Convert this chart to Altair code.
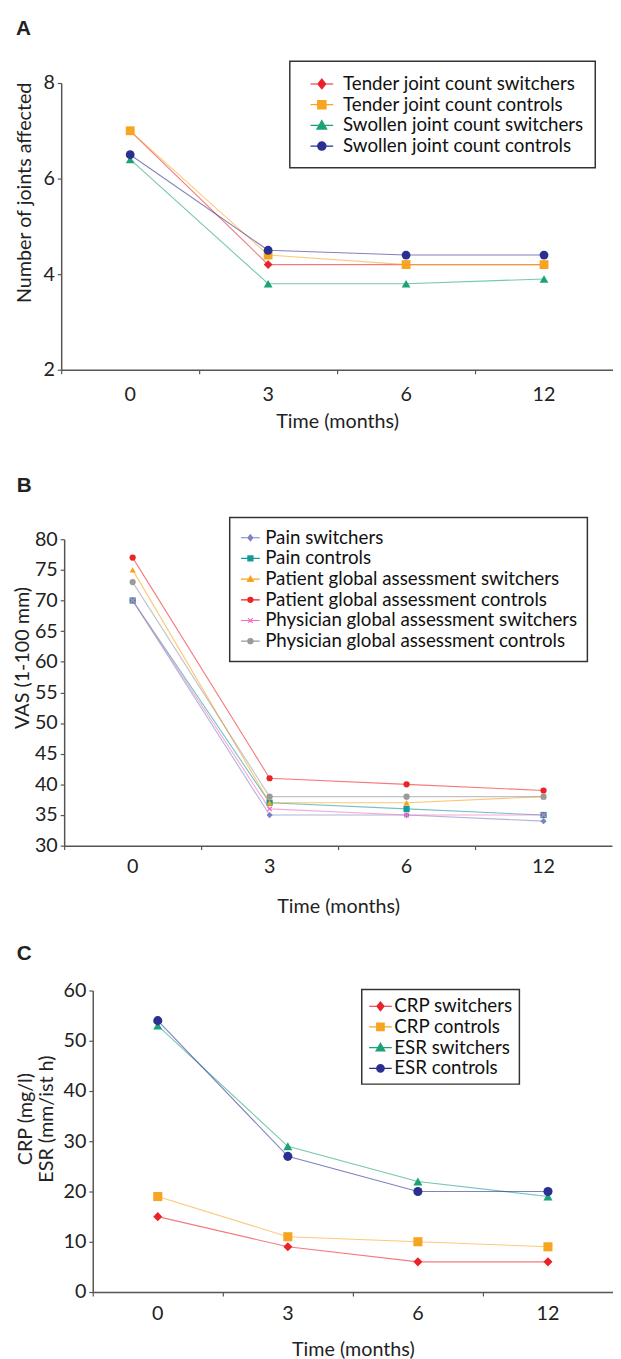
import math
import altair as alt
import pandas as pd

months = ["0", "3", "6", "12"]

# ---------------- Panel A ----------------
a_series = ["Tender joint count switchers", "Tender joint count controls",
            "Swollen joint count switchers", "Swollen joint count controls"]
a_tender_switchers = [7.0, 4.2, 4.2, 4.2]
a_tender_controls = [7.0, 4.4, 4.2, 4.2]
a_swollen_switchers = [6.4, 3.8, 3.8, 3.9]
a_swollen_controls = [6.5, 4.5, 4.4, 4.4]
a_colors = ["#e8232a", "#f7a520", "#1ba27a", "#2b2f8f"]
a_shapes = ["diamond", "square", "triangle", "circle"]
a_ticks = [2, 4, 6, 8]

# ---------------- Panel B ----------------
b_series = ["Pain switchers", "Pain controls",
            "Patient global assessment switchers", "Patient global assessment controls",
            "Physician global assessment switchers", "Physician global assessment controls"]
b_pain_switchers = [70, 35, 35, 34]
b_pain_controls = [70, 37, 36, 35]
b_patient_switchers = [75, 37, 37, 38]
b_patient_controls = [77, 41, 40, 39]
b_physician_switchers = [70, 36, 35, 35]
b_physician_controls = [73, 38, 38, 38]
b_colors = ["#7b82c2", "#159a9c", "#f7a21b", "#ed2224", "#f06ec0", "#9a9a9a"]
b_shapes = ["diamond", "square", "triangle", "circle", "x", "circle"]
b_ticks = [30, 35, 40, 45, 50, 55, 60, 65, 70, 75, 80]

# ---------------- Panel C ----------------
c_series = ["CRP switchers", "CRP controls", "ESR switchers", "ESR controls"]
c_crp_switchers = [15, 9, 6, 6]
c_crp_controls = [19, 11, 10, 9]
c_esr_switchers = [53, 29, 22, 19]
c_esr_controls = [54, 27, 20, 20]
c_colors = ["#e8232a", "#f7a520", "#1ba27a", "#2b2f8f"]
c_shapes = ["diamond", "square", "triangle", "circle"]
c_ticks = [0, 10, 20, 30, 40, 50, 60]

FONT = "Lato"
AXIS_COL = "#555555"
TEXT_COL = "#222222"
PLOT_W = 560


def fmt(v):
    return f"{v:.3f}".rstrip("0").rstrip(".")


def x_polygon(m, t=0.22):
    pts = [(-t, -1), (t, -1), (t, -t), (1, -t), (1, t), (t, t), (t, 1), (-t, 1),
           (-t, t), (-1, t), (-1, -t), (-t, -t)]
    out = []
    for x, y in pts:
        rx = (x - y) / math.sqrt(2) * m
        ry = (x + y) / math.sqrt(2) * m
        out.append(f"{fmt(rx)},{fmt(ry)}")
    return "M" + "L".join(out) + "Z"


def outline(kind, m):
    if kind == "diamond":
        return f"M0,{fmt(-m)}L{fmt(m*0.8)},0L0,{fmt(m)}L{fmt(-m*0.8)},0Z"
    if kind == "square":
        s = m * 0.85
        return f"M{fmt(-s)},{fmt(-s)}H{fmt(s)}V{fmt(s)}H{fmt(-s)}Z"
    if kind == "triangle":
        return f"M0,{fmt(-m)}L{fmt(m)},{fmt(m*0.75)}L{fmt(-m)},{fmt(m*0.75)}Z"
    if kind == "circle":
        r = m * 0.85
        return f"M{fmt(r)},0A{fmt(r)},{fmt(r)},0,1,1,{fmt(-r)},0A{fmt(r)},{fmt(r)},0,1,1,{fmt(r)},0Z"
    return ""


def legend_marker(kind, m, step):
    # stroked legend symbol: a solid-looking marker built from concentric outlines
    if kind == "x":
        s = m * 0.8
        return f"M{fmt(-s)},{fmt(-s)}L{fmt(s)},{fmt(s)}M{fmt(-s)},{fmt(s)}L{fmt(s)},{fmt(-s)}"
    parts = []
    k = m
    while k > 0.04:
        parts.append(outline(kind, k))
        k -= step
    return "".join(parts)


def point_shape(kind):
    if kind == "triangle":
        return "triangle-up"
    if kind == "x":
        return x_polygon(1.0)
    return kind


def make_panel(letter, letter_dx, letter_offset, series, lists, colors, shapes,
               point_size, ytitle, ydomain, yticks, x_shift, x_end, height,
               ytitle_x, ytitle_y, x_label_pad, x_title_pad, legend_x, legend_y,
               legend_size, legend_len, legend_m, legend_pad, legend_symoff,
               legend_labeloff):
    line_keys = [f"L{i}" for i in range(len(series))]
    point_keys = [f"P{i}" for i in range(len(series))]
    rows = []
    for name, lk, pk, vals in zip(series, line_keys, point_keys, lists):
        for mth, v in zip(months, vals):
            rows.append({"series": name, "line_key": lk, "point_key": pk,
                         "month": mth, "value": v})
    df = pd.DataFrame(rows)

    step = 1.0 / math.sqrt(legend_size) * 2  # about 1px between outlines
    legend_paths = [f"M{fmt(-legend_len)},0H{fmt(legend_len)}" + legend_marker(k, legend_m, step)
                    for k in shapes]

    legend = alt.Legend(
        orient="none", legendX=legend_x, legendY=legend_y, title=None,
        padding=legend_pad, symbolOffset=legend_symoff, labelOffset=legend_labeloff,
        symbolSize=legend_size, labelFontSize=19, labelFont=FONT, labelColor="#111111",
        rowPadding=0, strokeColor="#333333", fillColor="white", labelLimit=500,
        symbolStrokeWidth=1.2, symbolOpacity=1,
    )

    x = alt.X("month:N", sort=months,
              scale=alt.Scale(type="band", paddingInner=0, paddingOuter=0,
                              range=[x_shift, x_end]),
              axis=alt.Axis(title="Time (months)", labelAngle=0, bandPosition=0,
                            tickSize=4, labelPadding=x_label_pad, titlePadding=x_title_pad))
    y = alt.Y("value:Q",
              scale=alt.Scale(domain=ydomain, nice=False, zero=False),
              axis=alt.Axis(title=ytitle, values=yticks, tickSize=4, labelPadding=3,
                            offset=-x_shift,
                            grid=False, titleX=ytitle_x, titleY=ytitle_y,
                            titleAngle=270, titleAlign="center", titleBaseline="middle",
                            titleLineHeight=22))

    base = alt.Chart(df).encode(x=x, y=y)
    lines = base.mark_line(strokeWidth=1.1, opacity=0.6).encode(
        color=alt.Color("line_key:N", sort=line_keys,
                        scale=alt.Scale(domain=line_keys, range=colors), legend=None))
    points = base.mark_point(filled=True, size=point_size, opacity=1).encode(
        fill=alt.Fill("point_key:N", sort=point_keys,
                      scale=alt.Scale(domain=point_keys, range=colors), legend=None),
        shape=alt.Shape("point_key:N", sort=point_keys,
                        scale=alt.Scale(domain=point_keys,
                                        range=[point_shape(k) for k in shapes]),
                        legend=None))
    legend_layer = base.mark_point(filled=False, opacity=0, strokeWidth=1.2).encode(
        color=alt.Color("series:N", sort=series,
                        scale=alt.Scale(domain=series, range=colors), legend=legend),
        shape=alt.Shape("series:N", sort=series,
                        scale=alt.Scale(domain=series, range=legend_paths), legend=legend),
    )
    return alt.layer(lines, points, legend_layer).resolve_scale(
        color="independent", shape="independent"
    ).properties(
        width=PLOT_W, height=height,
        title=alt.TitleParams(text=letter, anchor="start", frame="group", dx=letter_dx,
                              offset=letter_offset, fontSize=21, fontWeight="bold",
                              font="Liberation Sans", color=TEXT_COL,
                              baseline="alphabetic"),
    )


panel_a = make_panel(
    "A", -46, 5, a_series,
    [a_tender_switchers, a_tender_controls, a_swollen_switchers, a_swollen_controls],
    a_colors, a_shapes, 80, "Number of joints affected", [2, 8], a_ticks,
    0, 560, 291, -37.5, 111, 11, 8, 232, -22, 400, 1.15, 0.5, 12, 9.5, 10.5)

panel_b = make_panel(
    "B", -45, 4, b_series,
    [b_pain_switchers, b_pain_controls, b_patient_switchers, b_patient_controls,
     b_physician_switchers, b_physician_controls],
    b_colors, b_shapes, 40, "VAS (1-100 mm)", [30, 80], b_ticks,
    3, 559, 311, -42, 120, 7, 21, 171, -22, 361, 1.0, 0.32, 10, 0.5, 4.5)

panel_c = make_panel(
    "C", -45, 0, c_series,
    [c_crp_switchers, c_crp_controls, c_esr_switchers, c_esr_controls],
    c_colors, c_shapes, 85, ["CRP (mg/l)", "ESR (mm/ist h)"], [0, 60], c_ticks,
    32, 560, 306, -68.5, 130, 8, 16, 305, -1, 400, 1.15, 0.45, 6, 2, 3)

top = alt.concat(panel_a, panel_b, columns=1, spacing=44).resolve_scale(
    color="independent", shape="independent", fill="independent",
    x="independent", y="independent")

chart = alt.concat(top, panel_c, columns=1, spacing=27).resolve_scale(
    color="independent", shape="independent", fill="independent",
    x="independent", y="independent"
).properties(
    padding={"left": 5, "top": 0, "right": 0, "bottom": 0}
).configure_view(stroke=None).configure_axis(
    domainColor=AXIS_COL, domainWidth=1.5, tickColor=AXIS_COL, tickWidth=1.2,
    labelFont=FONT, labelFontSize=20, labelColor=TEXT_COL,
    titleFont=FONT, titleFontSize=20, titleFontWeight="normal", titleColor=TEXT_COL,
).configure_legend(strokeWidth=1.5)

chart.save("out.html", embed_options={"renderer": "svg", "actions": False})
